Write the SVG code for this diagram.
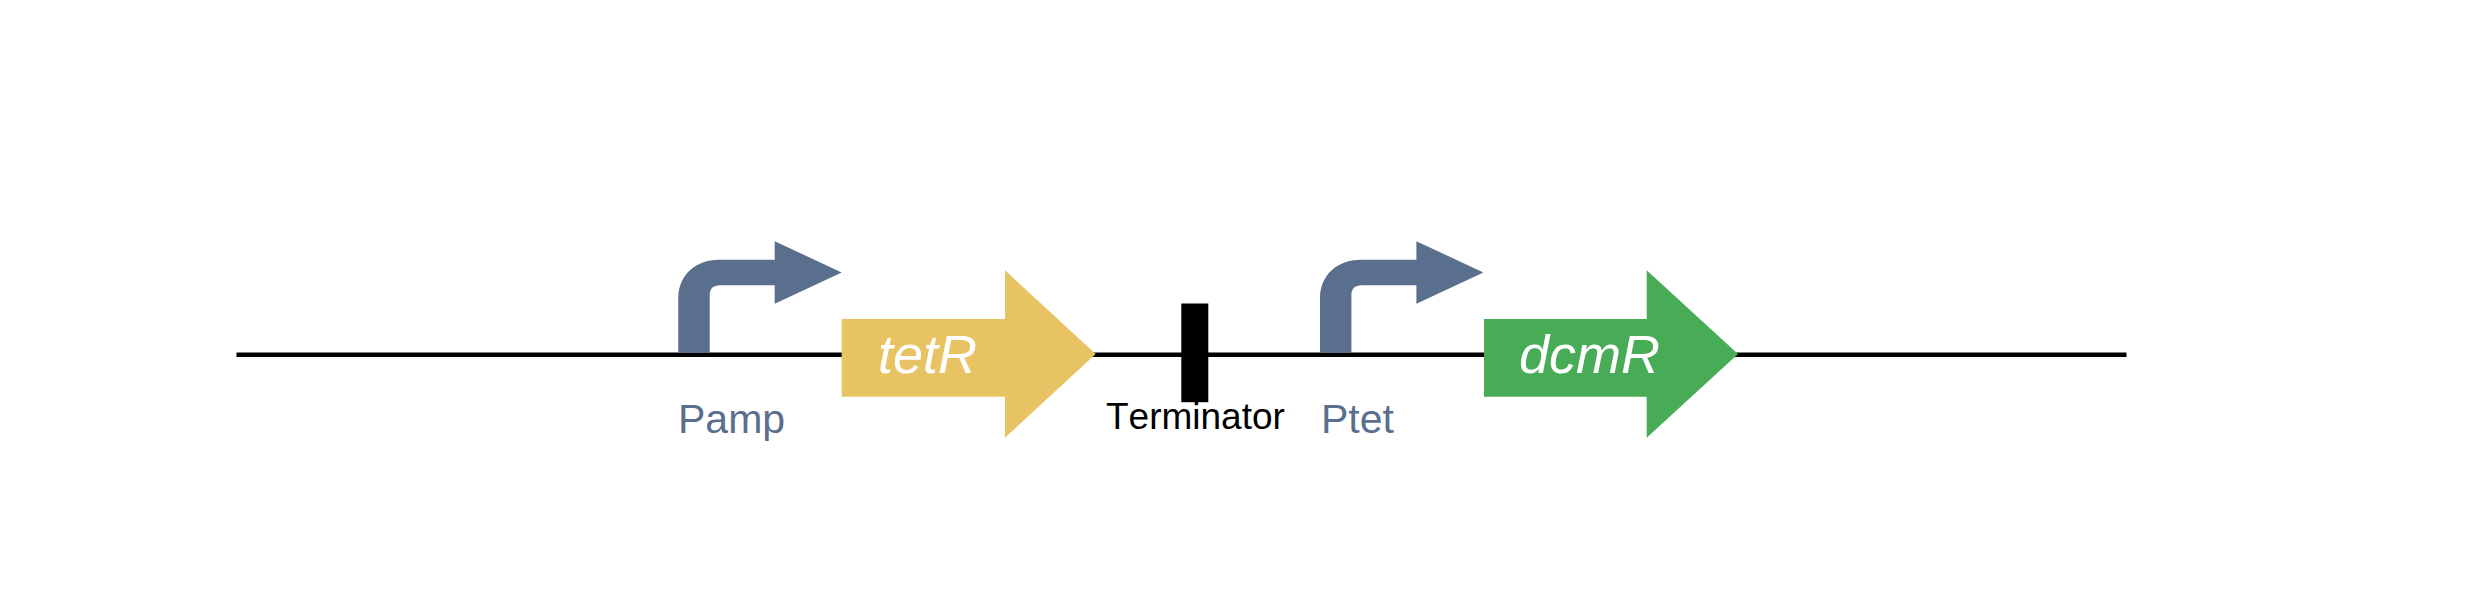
<svg xmlns="http://www.w3.org/2000/svg" width="2480" height="591" viewBox="0 0 2480 591">
<style>
text{font-family:"Liberation Sans",Arial,sans-serif;font-kerning:none}
.promoter{fill:#5a6e8d}
.plabel{fill:#5a6e8d;font-size:41px}
.gene{fill:#fff;font-size:54px;font-style:italic}
</style>
<defs>
<path id="bent" d="M678.3 352.7V298C678.3 275 696 259.8 719 259.8H774.7V241.2L841.7 272.5L774.7 303.8V285.2H720C713 285.2 709.7 288.5 709.7 295.5V352.7Z"/>
</defs>
<rect width="2480" height="591" fill="#fff"/>
<g id="connectors">
<line x1="236.5" y1="354.8" x2="2126.5" y2="354.8" stroke="#000" stroke-width="4.6"/>
</g>
<g id="pamp">
<use href="#bent" class="promoter"/>
<text class="plabel" x="678" y="433">Pamp</text>
</g>
<g id="tetR">
<path d="M841.7 319H1005V270.3L1095.7 354L1005 437.7V396.7H841.7Z" fill="#e8c364"/>
<text class="gene" x="878" y="373">tetR</text>
</g>
<g id="terminator">
<rect x="1181.3" y="303.5" width="27" height="98.7" fill="#000"/>
<text x="1106" y="429.3" font-size="37" fill="#000">Terminator</text>
</g>
<g id="ptet">
<use href="#bent" class="promoter" x="641.7"/>
<text class="plabel" x="1321" y="433">Ptet</text>
</g>
<g id="dcmR">
<path d="M1484 319H1646.7V270.3L1738 354L1646.7 437.7V396.7H1484Z" fill="#48ac57"/>
<text class="gene" x="1519" y="373">dcmR</text>
</g>
</svg>
